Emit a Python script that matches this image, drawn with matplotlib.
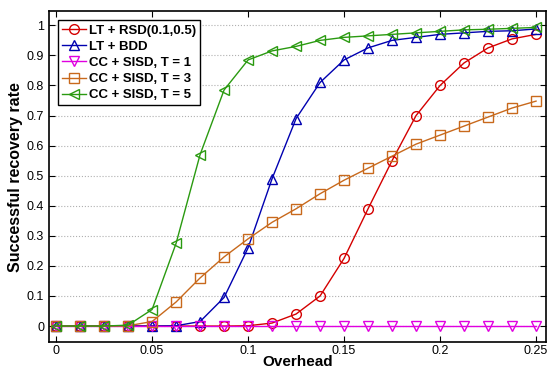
import numpy as np
from matplotlib import pyplot as plt

plt.rcParams['font.family'] = ['Liberation Sans', 'DejaVu Sans']

overhead = np.arange(21) * 0.0125

lt_rsd = [0, 0, 0, 0, 0, 0, 0, 0, 0.001, 0.01, 0.04, 0.10, 0.225, 0.39, 0.55,
          0.70, 0.80, 0.875, 0.925, 0.955, 0.97]
lt_bdd = [0, 0, 0, 0, 0, 0.001, 0.015, 0.095, 0.26, 0.49, 0.69, 0.81, 0.885,
          0.925, 0.95, 0.96, 0.97, 0.975, 0.98, 0.982, 0.988]
cc_t1 = [0] * 21
cc_t3 = [0, 0, 0, 0.001, 0.015, 0.08, 0.16, 0.23, 0.29, 0.345, 0.39, 0.44,
         0.485, 0.525, 0.565, 0.605, 0.635, 0.665, 0.695, 0.725, 0.748]
cc_t5 = [0, 0, 0, 0.003, 0.055, 0.275, 0.57, 0.785, 0.885, 0.915, 0.93, 0.95,
         0.96, 0.965, 0.97, 0.975, 0.98, 0.985, 0.987, 0.99, 0.993]

labels = ['LT + RSD(0.1,0.5)', 'LT + BDD', 'CC + SISD, T = 1',
          'CC + SISD, T = 3', 'CC + SISD, T = 5']
colors = ['#d40000', '#0000b0', '#e000e0', '#c8691c', '#2a9a10']
markers = ['o', '^', 'v', 's', '<']

fig = plt.figure(figsize=(5.48, 3.70), dpi=100)
ax = fig.add_axes([0.0894, 0.0757, 0.907, 0.894])

for y, lab, c, m in zip([lt_rsd, lt_bdd, cc_t1, cc_t3, cc_t5], labels, colors, markers):
    ax.plot(overhead, y, color=c, marker=m, markersize=7, markerfacecolor='none',
            markeredgecolor=c, markeredgewidth=1.0, linewidth=1.0, label=lab)

ax.set_xlim(-0.0037, 0.2552)
ax.set_ylim(-0.053, 1.047)
ax.set_xticks([0, 0.05, 0.1, 0.15, 0.2, 0.25])
ax.set_xticklabels(['0', '0.05', '0.1', '0.15', '0.2', '0.25'])
ax.set_yticks(np.arange(11) / 10)
ax.set_yticklabels(['0', '0.1', '0.2', '0.3', '0.4', '0.5', '0.6', '0.7', '0.8', '0.9', '1'])
ax.tick_params(direction='in', top=True, right=True, length=4, labelsize=9)
ax.tick_params(axis='x', pad=2)
ax.grid(True, axis='y', linestyle=':', color='#b0b0b0', linewidth=0.8)
for s in ax.spines.values():
    s.set_linewidth(1.2)

ax.set_xlabel('Overhead', fontsize=11, fontweight='bold', labelpad=-1)
ax.set_ylabel('Successful recovery rate', fontsize=11.5, fontweight='bold', labelpad=3)

leg = ax.legend(loc='upper left', prop={'weight': 'bold', 'size': 9.5}, fancybox=False,
                edgecolor='black', framealpha=1, borderpad=0.3, labelspacing=0.3,
                handlelength=1.8, handletextpad=0.2, borderaxespad=0.7)
leg.get_frame().set_linewidth(1.0)

fig.savefig('out.png', dpi=100)
